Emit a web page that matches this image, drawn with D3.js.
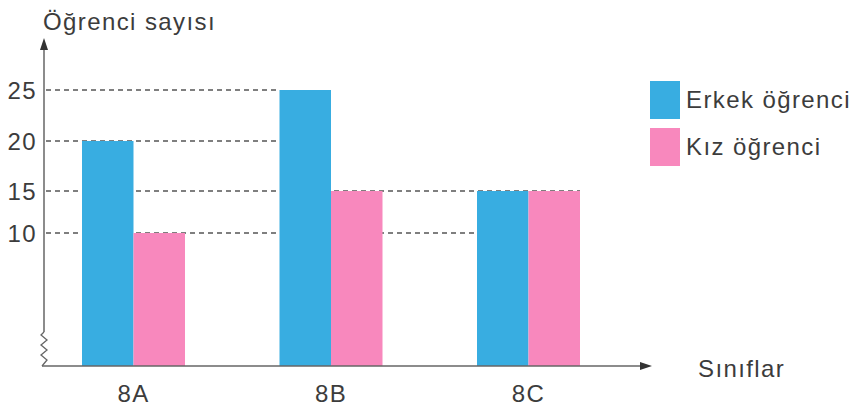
<!DOCTYPE html>
<html><head><meta charset="utf-8">
<script src="https://cdn.jsdelivr.net/npm/d3@7"></script>
<style>
html,body{margin:0;padding:0;background:#fff;}
text{font-family:"Liberation Sans",Arial,Helvetica,sans-serif;fill:#3c3c3c;}
</style></head>
<body>
<svg id="chart" width="858" height="409"></svg>
<script>
const categories = ["8A", "8B", "8C"];
const seriesNames = ["Erkek öğrenci", "Kız öğrenci"];
const erkek = [20, 25, 15];
const kiz = [10, 15, 15];
const yTicks = [10, 15, 20, 25];
const gridEnd = ["8C", "8C", "8B", "8B"]; // category where each dashed line stops
const colors = ["#38ade1", "#f888bd"];
const yTitle = "Öğrenci sayısı";
const xTitle = "Sınıflar";

const svg = d3.select("#chart");
const axisX = 44, baseY = 366, axisTop = 38, axisRight = 652;
const fs = 24, ls = 1.4;

const x = d3.scaleBand().domain(categories).range([44, 618]).paddingInner(0.4785).paddingOuter(0.1924);
const sub = d3.scaleBand().domain(seriesNames).range([0, x.bandwidth()]);
// broken axis: values placed on a piecewise scale as in the reference
const y = d3.scaleLinear().domain(yTicks).range([233, 191, 141, 90]);

// dashed grid
const grid = svg.append("g");
yTicks.forEach((t, i) => {
  const endCat = gridEnd[i];
  const x2 = t === 15 ? x(endCat) + x.bandwidth() : x(endCat);
  grid.append("line")
    .attr("x1", axisX + 2).attr("x2", x2)
    .attr("y1", y(t)).attr("y2", y(t))
    .attr("stroke", "#555").attr("stroke-width", 1.3)
    .attr("stroke-dasharray", "5,4");
});

// bars
const data = categories.map((c, i) => ({cat: c, vals: [erkek[i], kiz[i]]}));
const g = svg.append("g");
data.forEach(d => {
  d.vals.forEach((v, j) => {
    g.append("rect")
      .attr("x", x(d.cat) + sub(seriesNames[j]))
      .attr("y", y(v))
      .attr("width", sub.bandwidth())
      .attr("height", baseY - y(v))
      .attr("fill", colors[j]);
  });
});

// y axis with break
const axisCol = "#666";
const brTop = 332;
svg.append("line").attr("x1", axisX).attr("x2", axisX).attr("y1", axisTop + 8).attr("y2", brTop)
  .attr("stroke", axisCol).attr("stroke-width", 1.5);
const zig = [[axisX, brTop], [axisX - 3, brTop + 3], [axisX + 3, brTop + 8], [axisX - 3, brTop + 13], [axisX + 3, brTop + 18], [axisX - 3, brTop + 23], [axisX + 3, brTop + 28], [axisX - 2, baseY]];
svg.append("path").attr("d", d3.line()(zig)).attr("fill", "none").attr("stroke", axisCol).attr("stroke-width", 1.3);
svg.append("path").attr("d", `M${axisX},${axisTop} L${axisX - 4},${axisTop + 12} L${axisX + 4},${axisTop + 12} Z`).attr("fill", "#333");

// x axis
svg.append("line").attr("x1", axisX - 2).attr("x2", axisRight - 8).attr("y1", baseY).attr("y2", baseY)
  .attr("stroke", axisCol).attr("stroke-width", 1.5);
svg.append("path").attr("d", `M${axisRight},${baseY} L${axisRight - 12},${baseY - 4} L${axisRight - 12},${baseY + 4} Z`).attr("fill", "#333");

// tick labels
svg.append("g").selectAll("text").data(yTicks).join("text")
  .attr("x", 37).attr("y", d => y(d) + 8.5)
  .attr("text-anchor", "end").attr("font-size", fs).attr("letter-spacing", ls)
  .text(d => d);

svg.append("g").selectAll("text").data(categories).join("text")
  .attr("x", d => x(d) + x.bandwidth() / 2).attr("y", 402)
  .attr("text-anchor", "middle").attr("font-size", fs).attr("letter-spacing", ls)
  .text(d => d);

// titles
svg.append("text").attr("x", 43).attr("y", 30).attr("font-size", fs).attr("letter-spacing", ls).text(yTitle);
svg.append("text").attr("x", 698).attr("y", 377).attr("font-size", fs).attr("letter-spacing", ls).text(xTitle);

// legend
const leg = svg.append("g");
seriesNames.forEach((s, i) => {
  leg.append("rect").attr("x", 650).attr("y", 81 + i * 47).attr("width", 30).attr("height", 38).attr("fill", colors[i]);
  leg.append("text").attr("x", 686).attr("y", 108 + i * 47).attr("font-size", fs).attr("letter-spacing", ls).text(s);
});
</script>
</body></html>
